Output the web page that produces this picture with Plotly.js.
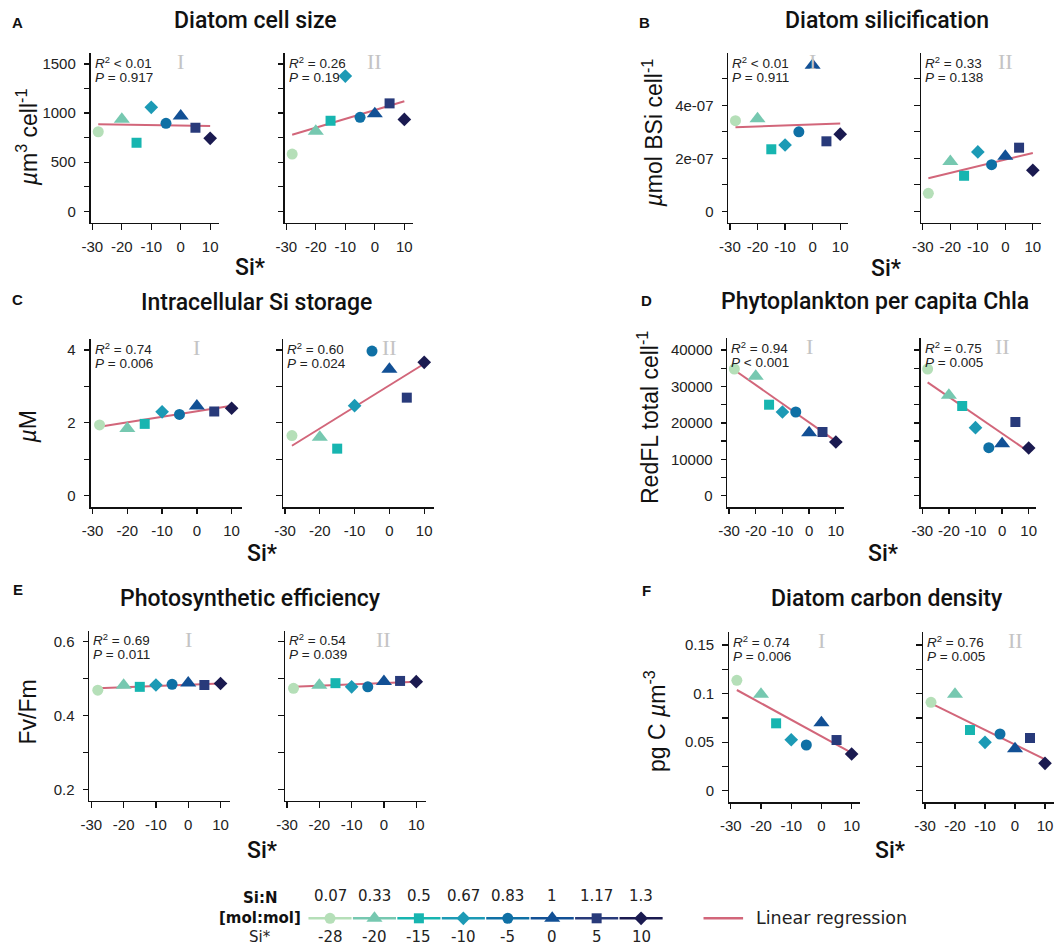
<!DOCTYPE html>
<html>
<head>
<meta charset="utf-8">
<script src="https://cdn.plot.ly/plotly-3.0.1.min.js"></script>
<style>html,body{margin:0;padding:0;background:#fff;}#chart{width:1060px;height:944px;}</style>
</head>
<body>
<div id="chart"></div>
<script>
// ---------------- DATA ----------------
const siStar = [-28, -20, -15, -10, -5, 0, 5, 10];
const siN = ['0.07', '0.33', '0.5', '0.67', '0.83', '1', '1.17', '1.3'];
const siStarLabels = ['-28', '-20', '-15', '-10', '-5', '0', '5', '10'];
const regX = [-28, 10];

const cellSizeI  = [810, 937, 698, 1059, 896, 970, 851, 743];
const cellSizeII = [583, 815, 922, 1377, 957, 994, 1099, 936];
const regCellI   = [886, 868];
const regCellII  = [780, 1120];

const silicI  = [3.42e-7, 3.49e-7, 2.34e-7, 2.50e-7, 3.00e-7, 5.51e-7, 2.64e-7, 2.91e-7];
const silicII = [0.68e-7, 1.88e-7, 1.34e-7, 2.24e-7, 1.76e-7, 2.08e-7, 2.40e-7, 1.55e-7];
const regSilicI  = [3.17e-7, 3.31e-7];
const regSilicII = [1.25e-7, 2.20e-7];

const siStorI  = [1.94, 1.84, 1.97, 2.30, 2.23, 2.46, 2.31, 2.40];
const siStorII = [1.65, 1.60, 1.29, 2.47, 3.97, 3.47, 2.69, 3.66];
const regSiStorI  = [1.89, 2.47];
const regSiStorII = [1.37, 3.62];

const chlaI  = [34780, 32770, 24980, 22980, 22980, 17290, 17490, 14740];
const chlaII = [34780, 27560, 24620, 18670, 13180, 14280, 20230, 13090];
const regChlaI  = [34500, 15000];
const regChlaII = [31130, 12080];

const fvfmI  = [0.469, 0.4826, 0.478, 0.483, 0.485, 0.4886, 0.483, 0.487];
const fvfmII = [0.474, 0.4826, 0.488, 0.478, 0.478, 0.4926, 0.494, 0.492];
const regFvfmI  = [0.474, 0.487];
const regFvfmII = [0.478, 0.492];

const carbI  = [0.1137, 0.0993, 0.0694, 0.0525, 0.0471, 0.0701, 0.0522, 0.0378];
const carbII = [0.0910, 0.0993, 0.0625, 0.0498, 0.0584, 0.0433, 0.0543, 0.0282];
const regCarbI  = [0.1037, 0.0391];
const regCarbII = [0.0900, 0.0323];

const xTickVals = [-30, -20, -10, 0, 10];
const xTickText = ['-30', '-20', '-10', '0', '10'];
const yTicksA = [0, 500, 1000, 1500];            const yLabA = ['0', '500', '1000', '1500'];
const yMinorA = [250, 750, 1250];
const yTicksB = [0, 2e-7, 4e-7];                 const yLabB = ['0', '2e-07', '4e-07'];
const yMinorB = [1e-7, 3e-7, 5e-7];
const yTicksC = [0, 2, 4];                       const yLabC = ['0', '2', '4'];
const yMinorC = [1, 3];
const yTicksD = [0, 10000, 20000, 30000, 40000]; const yLabD = ['0', '10000', '20000', '30000', '40000'];
const yMinorD = [5000, 15000, 25000, 35000];
const yTicksE = [0.2, 0.4, 0.6];                 const yLabE = ['0.2', '0.4', '0.6'];
const yMinorE = [0.3, 0.5];
const yTicksF = [0, 0.05, 0.1, 0.15];            const yLabF = ['0', '0.05', '0.1', '0.15'];
const yMinorF = [0.025, 0.075, 0.125];

const statsA = [['<i>R</i><sup>2</sup> &lt; 0.01', '<i>P</i> = 0.917'], ['<i>R</i><sup>2</sup> = 0.26', '<i>P</i> = 0.19']];
const statsB = [['<i>R</i><sup>2</sup> &lt; 0.01', '<i>P</i> = 0.911'], ['<i>R</i><sup>2</sup> = 0.33', '<i>P</i> = 0.138']];
const statsC = [['<i>R</i><sup>2</sup> = 0.74', '<i>P</i> = 0.006'], ['<i>R</i><sup>2</sup> = 0.60', '<i>P</i> = 0.024']];
const statsD = [['<i>R</i><sup>2</sup> = 0.94', '<i>P</i> &lt; 0.001'], ['<i>R</i><sup>2</sup> = 0.75', '<i>P</i> = 0.005']];
const statsE = [['<i>R</i><sup>2</sup> = 0.69', '<i>P</i> = 0.011'], ['<i>R</i><sup>2</sup> = 0.54', '<i>P</i> = 0.039']];
const statsF = [['<i>R</i><sup>2</sup> = 0.74', '<i>P</i> = 0.006'], ['<i>R</i><sup>2</sup> = 0.76', '<i>P</i> = 0.005']];
const roman = ['I', 'II'];

// ---------------- STYLE ----------------
const W = 1060, H = 944;
const colors = ['#b5dfb8', '#76c8b0', '#17b5b0', '#1c9ab5', '#0f70a5', '#125095', '#283a7a', '#1a1a50'];
const symbols = ['circle', 'triangle-up', 'square', 'diamond', 'circle', 'triangle-up', 'square', 'diamond'];
const sizes = [11, 14, 10, 10.5, 11, 14, 10, 10.5];
const regColor = '#d2667a';
const FA = 'Liberation Sans, Arial, sans-serif';
const FT = 'Roboto, sans-serif';
const FL = 'DejaVu Sans, Verdana, sans-serif';
const XR = [-30.6, 12.9];

const panels = [
  {L:'A', title:'Diatom cell size', yt:'<i>µ</i>m<sup>3</sup> cell<sup>-1</sup>', d:[cellSizeI, cellSizeII], r:[regCellI, regCellII], st:statsA, yr:[-119, 1612], tv:yTicksA, tt:yLabA, mv:yMinorA,
   bx:[[90.6, 218.7], [284.5, 412.9]], by:[53, 223], tpos:[255, 21], lpos:[17.5, 22], ypos:[26.7, 137.5], xpos:[250, 267]},
  {L:'B', title:'Diatom silicification', yt:'<i>µ</i>mol BSi cell<sup>-1</sup>', d:[silicI, silicII], r:[regSilicI, regSilicII], st:statsB, yr:[-4.3e-8, 5.96e-7], tv:yTicksB, tt:yLabB, mv:yMinorB,
   bx:[[728.3, 848.2], [921.2, 1040.8]], by:[53.3, 222.7], tpos:[886.7, 21], lpos:[644, 22], ypos:[652, 133.5], xpos:[886, 268]},
  {L:'C', title:'Intracellular Si storage', yt:'<i>µ</i>M', d:[siStorI, siStorII], r:[regSiStorI, regSiStorII], st:statsC, yr:[-0.32, 4.30], tv:yTicksC, tt:yLabC, mv:yMinorC,
   bx:[[90.5, 241.7], [282.9, 434.3]], by:[339, 507.3], tpos:[256.7, 302.7], lpos:[17.5, 299.5], ypos:[27, 427.5], xpos:[262, 553]},
  {L:'D', title:'Phytoplankton per capita Chla', yt:'RedFL total cell<sup>-1</sup>', d:[chlaI, chlaII], r:[regChlaI, regChlaII], st:statsD, yr:[-3184, 43212], tv:yTicksD, tt:yLabD, mv:yMinorD,
   bx:[[727.4, 843.6], [920.7, 1036.4]], by:[338.3, 507.3], tpos:[875, 302], lpos:[646, 300], ypos:[648, 418], xpos:[883, 553]},
  {L:'E', title:'Photosynthetic efficiency', yt:'Fv/Fm', d:[fvfmI, fvfmII], r:[regFvfmI, regFvfmII], st:statsE, yr:[0.169, 0.630], tv:yTicksE, tt:yLabE, mv:yMinorE,
   bx:[[89.4, 229.9], [285.1, 425.6]], by:[630.7, 801], tpos:[250, 598], lpos:[17.5, 589], ypos:[27.5, 712], xpos:[262, 850]},
  {L:'F', title:'Diatom carbon density', yt:'pg C <i>µ</i>m<sup>-3</sup>', d:[carbI, carbII], r:[regCarbI, regCarbII], st:statsF, yr:[-0.0119, 0.1631], tv:yTicksF, tt:yLabF, mv:yMinorF,
   bx:[[729.0, 860.4], [923.2, 1053.7]], by:[632.3, 802.3], tpos:[886.7, 598], lpos:[646.7, 590], ypos:[655, 721], xpos:[890, 850]}
];

const px = p => p / W;
const py = p => 1 - p / H;

const traces = [];
const annotations = [];
const layout = {
  width: W, height: H, margin: {l: 0, r: 0, t: 0, b: 0},
  paper_bgcolor: '#fff', plot_bgcolor: 'rgba(0,0,0,0)', showlegend: false,
  font: {family: FA, color: '#222'}
};

const axBase = {showline: true, linecolor: '#111', linewidth: 1.3, ticks: 'outside', ticklen: 5.5, tickwidth: 1.3,
  tickcolor: '#111', showgrid: false, zeroline: false, fixedrange: true, tickfont: {family: FA, size: 15, color: '#222'}};

panels.forEach((p, k) => {
  for (let j = 0; j < 2; j++) {
    const n = k * 2 + j + 1;
    const xa = n === 1 ? 'x' : 'x' + n, ya = n === 1 ? 'y' : 'y' + n;
    const xk = n === 1 ? 'xaxis' : 'xaxis' + n, yk = n === 1 ? 'yaxis' : 'yaxis' + n;
    layout[xk] = Object.assign({}, axBase, {domain: [px(p.bx[j][0]), px(p.bx[j][1])], range: XR, anchor: ya,
      tickmode: 'array', tickvals: xTickVals, ticktext: xTickText, ticklabelstandoff: 4});
    layout[yk] = Object.assign({}, axBase, {domain: [py(p.by[1]), py(p.by[0])], range: p.yr, anchor: xa,
      tickmode: 'array', tickvals: p.tv, ticktext: p.tt, showticklabels: j === 0, ticklabelstandoff: 5,
      minor: {tickmode: 'array', tickvals: p.mv, ticks: 'outside', ticklen: 5.5, tickwidth: 1.3, tickcolor: '#111', showgrid: false}});
    // regression line
    traces.push({type: 'scatter', mode: 'lines', x: regX, y: p.r[j], xaxis: xa, yaxis: ya,
      line: {color: regColor, width: 2}, hoverinfo: 'skip'});
    // points
    traces.push({type: 'scatter', mode: 'markers', x: siStar, y: p.d[j], xaxis: xa, yaxis: ya, cliponaxis: false,
      marker: {color: colors, symbol: symbols, size: sizes, opacity: 1, line: {width: 0}}});
    // stats text
    const x0 = p.bx[j][0], top = p.by[0];
    annotations.push({xref: 'paper', yref: 'paper', x: px(x0 + 3), y: py(top + 9.2), xanchor: 'left', yanchor: 'middle',
      text: p.st[j][0], showarrow: false, height: 13, font: {family: FA, size: 13.5, color: '#222'}, borderpad: 0});
    annotations.push({xref: 'paper', yref: 'paper', x: px(x0 + 3), y: py(top + 24.2), xanchor: 'left', yanchor: 'middle',
      text: p.st[j][1], showarrow: false, height: 13, font: {family: FA, size: 13.5, color: '#222'}, borderpad: 0});
    annotations.push({xref: xa, yref: 'paper', x: 0, y: py(top + 8.5), xanchor: 'center', yanchor: 'middle',
      text: roman[j], showarrow: false, font: {family: 'Liberation Serif, Times New Roman, serif', size: 22, color: '#c4c4c4'}});
  }
  annotations.push({xref: 'paper', yref: 'paper', x: px(p.tpos[0]), y: py(p.tpos[1]), xanchor: 'center', yanchor: 'middle',
    text: p.title, showarrow: false, font: {family: FT, size: 23, color: '#111', weight: 500}});
  annotations.push({xref: 'paper', yref: 'paper', x: px(p.lpos[0]), y: py(p.lpos[1]), xanchor: 'center', yanchor: 'middle',
    text: '<b>' + p.L + '</b>', showarrow: false, font: {family: FA, size: 15, color: '#111'}});
  annotations.push({xref: 'paper', yref: 'paper', x: px(p.ypos[0]), y: py(p.ypos[1]), xanchor: 'center', yanchor: 'middle',
    text: p.yt, textangle: -90, showarrow: false, font: {family: FA, size: 23, color: '#111'}});
  annotations.push({xref: 'paper', yref: 'paper', x: px(p.xpos[0]), y: py(p.xpos[1]), xanchor: 'center', yanchor: 'middle',
    text: 'Si*', showarrow: false, font: {family: FT, size: 23, color: '#111', weight: 500}});
});

// ---------------- LEGEND ----------------
const legHidden = {visible: false, fixedrange: true};
layout.xaxis13 = Object.assign({}, legHidden, {domain: [px(307.8), px(663.3)], range: [-0.5, 7.5], anchor: 'y13'});
layout.yaxis13 = Object.assign({}, legHidden, {domain: [py(933.3), py(903.3)], range: [-1, 1], anchor: 'x13'});
layout.xaxis14 = Object.assign({}, legHidden, {domain: [px(703.3), px(743.3)], range: [0, 1], anchor: 'y14'});
layout.yaxis14 = Object.assign({}, legHidden, {domain: [py(933.3), py(903.3)], range: [-1, 1], anchor: 'x14'});

siStar.forEach((s, i) => {
  traces.push({type: 'scatter', mode: 'lines', x: [i - 0.485, i + 0.485], y: [0, 0], xaxis: 'x13', yaxis: 'y13',
    line: {color: colors[i], width: 2.5}, hoverinfo: 'skip'});
  annotations.push({xref: 'x13', yref: 'paper', x: i, y: py(896), xanchor: 'center', yanchor: 'middle',
    text: siN[i], showarrow: false, borderpad: 0, font: {family: FL, size: 15, color: '#222'}});
  annotations.push({xref: 'x13', yref: 'paper', x: i, y: py(936), xanchor: 'center', yanchor: 'middle',
    text: siStarLabels[i], showarrow: false, borderpad: 0, height: 15, font: {family: FL, size: 15, color: '#222'}});
});
traces.push({type: 'scatter', mode: 'markers', x: siStar.map((s, i) => i), y: siStar.map(() => 0), xaxis: 'x13', yaxis: 'y13',
  cliponaxis: false, marker: {color: colors, symbol: symbols, size: sizes, opacity: 1, line: {width: 0}}});
traces.push({type: 'scatter', mode: 'lines', x: [0, 1], y: [0, 0], xaxis: 'x14', yaxis: 'y14',
  line: {color: regColor, width: 2.5}, hoverinfo: 'skip'});

annotations.push({xref: 'paper', yref: 'paper', x: px(260), y: py(897), xanchor: 'center', yanchor: 'middle',
  text: '<b>Si:N</b>', showarrow: false, borderpad: 0, height: 17, font: {family: FL, size: 15, color: '#111'}});
annotations.push({xref: 'paper', yref: 'paper', x: px(260), y: py(917), xanchor: 'center', yanchor: 'middle',
  text: '<b>[mol:mol]</b>', showarrow: false, borderpad: 0, height: 17, font: {family: FL, size: 15, color: '#111'}});
annotations.push({xref: 'paper', yref: 'paper', x: px(260), y: py(936), xanchor: 'center', yanchor: 'middle',
  text: 'Si*', showarrow: false, borderpad: 0, height: 15, font: {family: FL, size: 15, color: '#222'}});
annotations.push({xref: 'paper', yref: 'paper', x: px(754), y: py(918), xanchor: 'left', yanchor: 'middle',
  text: 'Linear regression', showarrow: false, font: {family: FL, size: 17.5, color: '#222'}});

layout.annotations = annotations;
Plotly.newPlot('chart', traces, layout, {displayModeBar: false, staticPlot: true});
</script>
</body>
</html>
